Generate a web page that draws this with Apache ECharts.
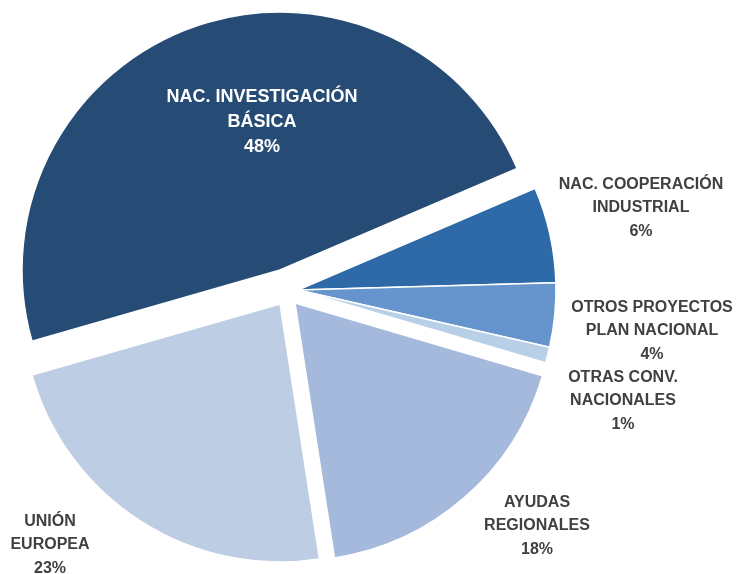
<!DOCTYPE html>
<html>
<head>
<meta charset="utf-8">
<script src="https://cdn.jsdelivr.net/npm/echarts@6/dist/echarts.min.js"></script>
<style>
  html, body { margin: 0; padding: 0; background: #fff; }
  #chart { width: 736px; height: 574px; }
</style>
</head>
<body>
<div id="chart"></div>
<script>
    // categorias y valores (%)
    const categories = [
        'NAC. INVESTIGACIÓN\nBÁSICA',
        'NAC. COOPERACIÓN\nINDUSTRIAL',
        'OTROS PROYECTOS\nPLAN NACIONAL',
        'OTRAS CONV.\nNACIONALES',
        'AYUDAS\nREGIONALES',
        'UNIÓN\nEUROPEA'
    ];
    const values = [48, 6, 4, 1, 18, 23];

    // estilo de cada porción
    const colors = ['#264b74', '#2e6aa7', '#6694cd', '#b8cfe8', '#a4b9db', '#bdcee4'];
    // centro de cada porción (porciones separadas)
    const sliceCenters = [[280, 270], [298, 290], [298, 290], [298, 290], [295, 303], [280, 304]];
    // posición de cada etiqueta
    const labelPos = [[262, 122], [641, 208], [652, 331], [623, 401], [537, 526], [50, 545]];

    const chart = echarts.init(document.getElementById('chart'));

    const series = categories.map((c, k) => ({
        type: 'pie',
        center: sliceCenters[k],
        radius: 258,
        startAngle: 196,
        clockwise: true,
        avoidLabelOverlap: false,
        silent: true,
        animation: false,
        labelLine: { show: false },
        label: {
            position: k === 0 ? 'inside' : 'outside',
            fontFamily: '"Liberation Sans", Arial, sans-serif',
            fontWeight: 'bold',
            fontSize: k === 0 ? 18 : 16,
            lineHeight: k === 0 ? 25 : 23.5,
            color: k === 0 ? '#ffffff' : '#404040',
            align: 'center',
            formatter: p => `${p.name}\n${Math.round(p.percent)}%`
        },
        labelLayout: params => {
            if (params.dataIndex !== k) return {};
            return {
                x: labelPos[k][0],
                y: labelPos[k][1],
                align: 'center',
                verticalAlign: 'middle'
            };
        },
        data: categories.map((name, i) => ({
            name: name,
            value: values[i],
            itemStyle: i === k
                ? { color: colors[i], borderColor: '#ffffff', borderWidth: 1.5 }
                : { color: 'rgba(0,0,0,0)', borderWidth: 0 },
            label: { show: i === k }
        }))
    }));

    chart.setOption({
        backgroundColor: '#ffffff',
        animation: false,
        series: series
    });
</script>
</body>
</html>
